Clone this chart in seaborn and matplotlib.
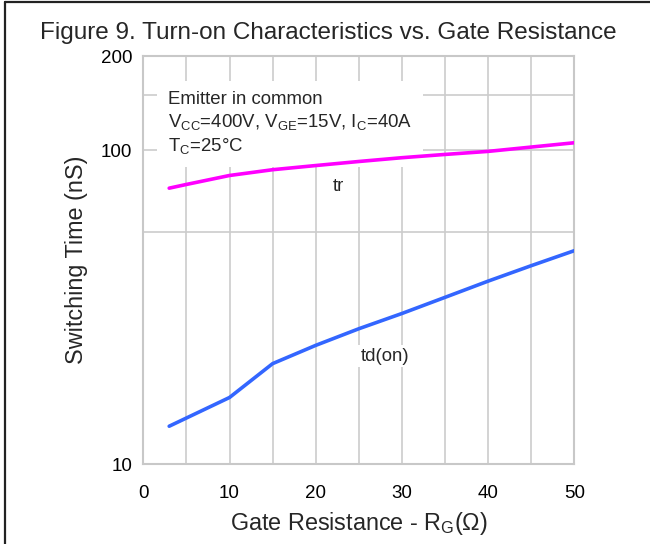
import matplotlib
matplotlib.use("Agg")
import matplotlib.pyplot as plt
from matplotlib.lines import Line2D
import seaborn as sns
import pandas as pd

# Gate resistance sweep (ohm) and switching times (ns)
rg_tr = [3, 5, 10, 15, 20, 25, 30, 35, 40, 45, 50]
tr_ns = [75.8, 77.9, 83.2, 86.8, 89.5, 92.2, 94.8, 97.1, 99.3, 102.5, 105.8]

rg_td = [3, 10, 15, 20, 25, 30, 35, 40, 45, 50]
td_on_ns = [13.2, 16.3, 20.9, 23.9, 27.0, 30.2, 34.0, 38.3, 42.9, 47.9]

x_ticks = [0, 10, 20, 30, 40, 50]
y_ticks = [10, 100, 200]
y_grid = [55, 100, 150]
x_grid = [5, 10, 15, 20, 25, 30, 35, 40, 45]

df = pd.concat([
    pd.DataFrame({"Rg": rg_tr, "t": tr_ns, "curve": "tr"}),
    pd.DataFrame({"Rg": rg_td, "t": td_on_ns, "curve": "td(on)"}),
])

sns.set_theme(style="white")
plt.rcParams["font.family"] = ["Liberation Sans", "DejaVu Sans"]
plt.rcParams["mathtext.fontset"] = "custom"
plt.rcParams["mathtext.rm"] = "Liberation Sans"
plt.rcParams["mathtext.default"] = "regular"

fig = plt.figure(figsize=(6.5, 5.44), dpi=100)
ax = fig.add_axes([0.2205, 0.147, 0.663, 0.750])

grid_c = "#cccccc"
for xv in x_grid:
    ax.axvline(xv, color=grid_c, lw=1.2, zorder=0)
for yv in y_grid:
    ax.axhline(yv, color=grid_c, lw=1.2, zorder=0)

sns.lineplot(data=df, x="Rg", y="t", hue="curve",
             palette={"tr": "#ff00ff", "td(on)": "#3366ff"},
             lw=2.6, legend=False, ax=ax, zorder=3)

ax.set_yscale("log")
ax.set_xlim(0, 50)
ax.set_ylim(10, 200)
ax.set_xticks(x_ticks)
ax.set_xticklabels([str(v) for v in x_ticks])
ax.set_yticks(y_ticks)
ax.set_yticklabels([str(v) for v in y_ticks])
ax.minorticks_off()
ax.tick_params(axis="x", length=0, labelsize=13.5, colors="black", pad=15)
ax.tick_params(axis="y", length=0, labelsize=13.5, colors="black", pad=8)

for s in ax.spines.values():
    s.set_color("#c8c8c8")
    s.set_linewidth(1.5)

ax.set_xlabel("Gate Resistance - R$_{G}$(\u03a9)", fontsize=16.8, labelpad=6)
ax.set_ylabel("Switching Time (nS)", fontsize=16.8, labelpad=9)

fig.text(0.505, 0.94, "Figure 9. Turn-on Characteristics vs. Gate Resistance",
         ha="center", va="center", fontsize=17.5)

ax.text(2.85, 122, "Emitter in common\n"
        "V$_{CC}$=400V, V$_{GE}$=15V, I$_{C}$=40A\n"
        "T$_{C}$=25\u00b0C",
        fontsize=13.4, va="center", ha="left", linespacing=1.25, zorder=2,
        bbox=dict(facecolor="white", edgecolor="none", pad=8))

ax.text(22.6, 76.7, "tr", fontsize=13.4, ha="center", va="center", zorder=2,
        bbox=dict(facecolor="white", edgecolor="none", pad=2))
ax.text(28.0, 22.1, "td(on)", fontsize=13.4, ha="center", va="center", zorder=2,
        bbox=dict(facecolor="white", edgecolor="none", pad=2))

# frame edges along top and left of the figure
fig.add_artist(Line2D([0.0077, 0.0077], [0, 0.996], color="#222222", lw=1.6,
                      transform=fig.transFigure))
fig.add_artist(Line2D([0.0077, 1.0], [0.996, 0.996], color="#222222", lw=1.6,
                      transform=fig.transFigure))

fig.savefig("out.png", dpi=100)
